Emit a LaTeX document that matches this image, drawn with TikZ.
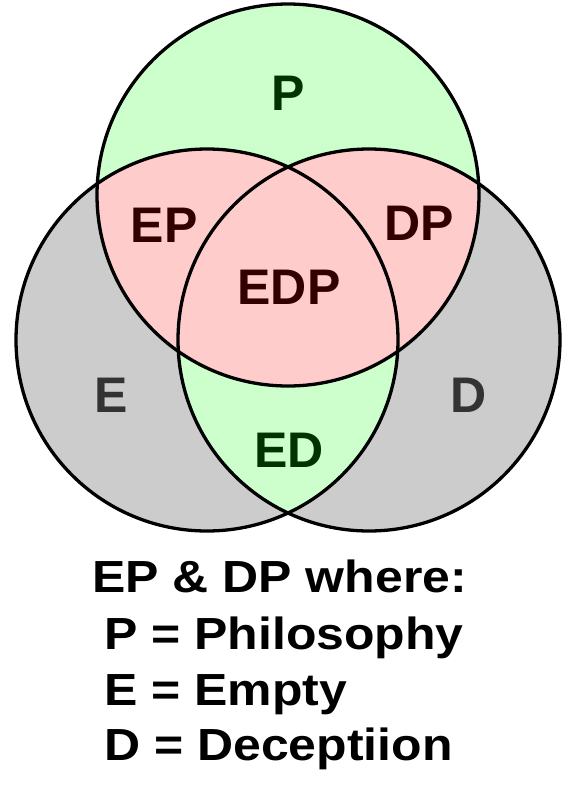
\documentclass[tikz,border=0pt]{standalone}
\usepackage{fontspec}
\setmainfont{Liberation Sans}
\definecolor{pgreen}{HTML}{CCFFCC}
\definecolor{ppink}{HTML}{FFCCCC}
\definecolor{pgray}{HTML}{CCCCCC}
\definecolor{tgreen}{HTML}{003300}
\definecolor{tred}{HTML}{330000}
\definecolor{tgray}{HTML}{333333}
\tikzset{
  ring/.style={draw=black, line width=3.3pt},
  lab/.style={font=\fontsize{50}{50}\selectfont\bfseries, anchor=base, inner sep=0pt},
  legend/.style={font=\fontsize{45}{45}\selectfont\bfseries, anchor=base west, inner sep=0pt, xscale=1.11}
}
\begin{document}
\begin{tikzpicture}[x=1pt,y=-1pt]
\useasboundingbox (0,0) rectangle (576,804);
\fill[white] (0,0) rectangle (576,804);
% base fills
\fill[pgray] (207,340) circle (191);
\fill[pgray] (369,340) circle (191);
\fill[pgreen] (288,195) circle (191);
\begin{scope}
  \clip (207,340) circle (191);
  \fill[pgreen] (369,340) circle (191);
\end{scope}
\begin{scope}
  \clip (288,195) circle (191);
  \fill[ppink] (207,340) circle (191);
  \fill[ppink] (369,340) circle (191);
\end{scope}
% outlines
\node[ring, circle, minimum size=382pt, inner sep=0pt] (cp) at (288,195) {};
\node[ring, circle, minimum size=382pt, inner sep=0pt] (ce) at (207,340) {};
\node[ring, circle, minimum size=382pt, inner sep=0pt] (cd) at (369,340) {};
% labels
\node[lab, text=tgreen] (lp) at (288,110) {P};
\node[lab, text=tred] (lep) at (164,242) {EP};
\node[lab, text=tred] (ldp) at (419,240) {DP};
\node[lab, text=tred] (ledp) at (289,304) {EDP};
\node[lab, text=tgray] (le) at (111,412) {E};
\node[lab, text=tgray] (ld) at (469,412) {D};
\node[lab, text=tgreen] (led) at (289,467) {ED};
% legend
\node[legend] (t1) at (92,592) {EP \& DP where:};
\node[legend] (t2) at (104,649) {P = Philosophy};
\node[legend] (t3) at (104,705) {E = Empty};
\node[legend] (t4) at (104,760) {D = Deceptiion};
\end{tikzpicture}
\end{document}
